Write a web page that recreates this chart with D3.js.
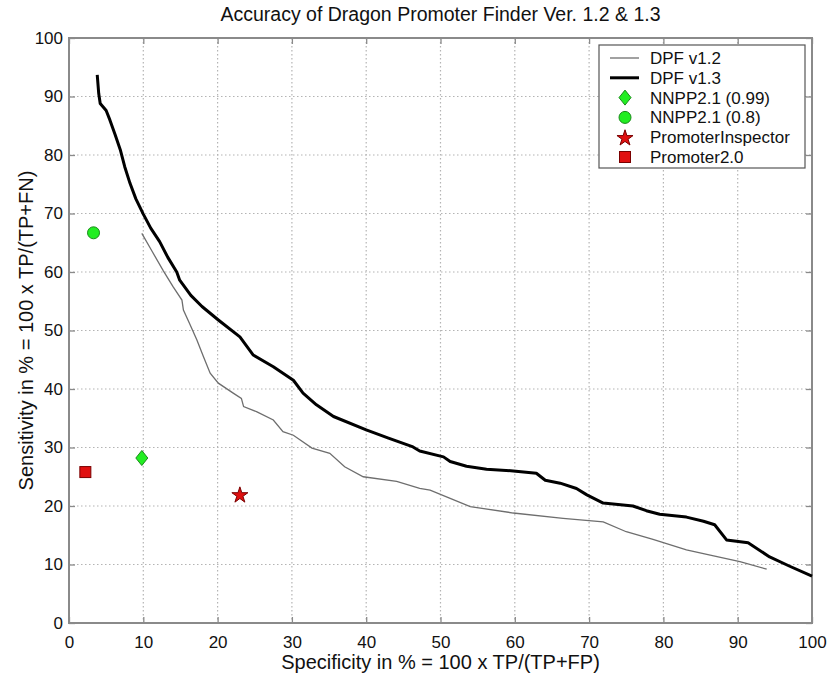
<!DOCTYPE html>
<html lang="en">
<head>
<meta charset="utf-8">
<title>Accuracy of Dragon Promoter Finder</title>
<script src="https://cdn.jsdelivr.net/npm/d3@7"></script>
<style>
  body { margin: 0; background: #fff; }
  text { font-family: "Liberation Sans", Arial, sans-serif; fill: #111; }
</style>
</head>
<body>
<script>
// DPF v1.2 curve (specificity, sensitivity)
var dpf12 = [
  [9.8, 66.6], [11.2, 63.5], [12.7, 60.2], [14.0, 57.5], [15.2, 55.2], [15.4, 53.5],
  [16.3, 51.0], [17.2, 48.4], [18.1, 45.5], [19.0, 42.7], [20.1, 41.0], [22.1, 39.3],
  [23.2, 38.4], [23.5, 37.0], [25.3, 36.1], [27.5, 34.7], [28.8, 32.7], [30.2, 32.1],
  [32.7, 29.9], [35.1, 29.0], [37.1, 26.7], [39.6, 25.0], [44.1, 24.2], [47.2, 23.0],
  [48.6, 22.7], [51.3, 21.3], [54.0, 19.9], [59.8, 18.8], [66.5, 17.9], [71.9, 17.3],
  [75.0, 15.6], [78.6, 14.3], [83.1, 12.5], [86.3, 11.6], [90.3, 10.5], [93.9, 9.2]
];
// DPF v1.3 curve
var dpf13 = [
  [3.8, 93.7], [4.0, 90.5], [4.2, 88.8], [5.0, 87.6], [5.5, 86.0], [6.2, 83.5],
  [6.9, 80.9], [7.5, 78.0], [8.2, 75.2], [9.0, 72.5], [10.0, 69.9], [11.0, 67.5],
  [12.2, 65.2], [13.3, 62.5], [14.5, 60.0], [14.9, 58.6], [16.4, 56.0], [17.9, 54.1],
  [20.1, 51.8], [23.0, 48.9], [24.8, 45.8], [27.5, 43.8], [30.2, 41.5], [31.5, 39.3],
  [33.3, 37.3], [35.6, 35.3], [40.0, 33.0], [43.0, 31.6], [46.3, 30.1], [47.2, 29.4],
  [50.4, 28.4], [51.3, 27.6], [53.5, 26.8], [56.2, 26.3], [59.8, 26.0], [62.9, 25.6],
  [64.1, 24.4], [66.1, 23.9], [68.3, 23.0], [69.7, 21.9], [71.9, 20.5], [75.9, 20.0],
  [77.7, 19.2], [79.5, 18.6], [83.1, 18.1], [85.4, 17.4], [86.9, 16.8], [88.5, 14.2],
  [91.4, 13.7], [94.3, 11.3], [97.0, 9.7], [100.0, 8.0]
];
// single tools
var nnpp99 = [9.8, 28.2];
var nnpp08 = [3.3, 66.7];
var promoterInspector = [23.0, 22.0];
var promoter20 = [2.2, 25.8];

var ticks = [0, 10, 20, 30, 40, 50, 60, 70, 80, 90, 100];
var legendLabels = ["DPF v1.2", "DPF v1.3", "NNPP2.1 (0.99)", "NNPP2.1 (0.8)", "PromoterInspector", "Promoter2.0"];

var width = 828, height = 675;
var pLeft = 69, pRight = 812, pTop = 38, pBottom = 623;

var svg = d3.select("body").append("svg")
  .attr("width", width)
  .attr("height", height);

var x = d3.scaleLinear().domain([0, 100]).range([pLeft, pRight]);
var y = d3.scaleLinear().domain([0, 100]).range([pBottom, pTop]);

// grid (dotted)
var grid = svg.append("g");
grid.selectAll(".vg").data(ticks.slice(1, -1)).enter().append("line")
  .attr("x1", d => x(d)).attr("x2", d => x(d))
  .attr("y1", pTop).attr("y2", pBottom)
  .attr("stroke", "#b4b4b4").attr("stroke-width", 1.2)
  .attr("stroke-dasharray", "1.5,2.5");
grid.selectAll(".hg").data(ticks.slice(1, -1)).enter().append("line")
  .attr("y1", d => y(d)).attr("y2", d => y(d))
  .attr("x1", pLeft).attr("x2", pRight)
  .attr("stroke", "#b4b4b4").attr("stroke-width", 1.2)
  .attr("stroke-dasharray", "1.5,2.5");

// axes, ticks inward on all 4 sides
var axCol = "#8a8a8a";
function styleAxis(g) {
  g.select(".domain").remove();
  g.selectAll(".tick line").attr("stroke", axCol).attr("stroke-width", 1.3);
  g.selectAll(".tick text").attr("font-size", 17).attr("fill", "#111")
    .attr("font-family", "Liberation Sans, Arial, sans-serif");
}
svg.append("g").attr("transform", "translate(0," + pBottom + ")")
  .call(d3.axisBottom(x).tickValues(ticks).tickSize(-6).tickPadding(13))
  .call(styleAxis);
svg.append("g").attr("transform", "translate(0," + pTop + ")")
  .call(d3.axisTop(x).tickValues(ticks).tickSize(-6).tickFormat(""))
  .call(styleAxis);
svg.append("g").attr("transform", "translate(" + pLeft + ",0)")
  .call(d3.axisLeft(y).tickValues(ticks).tickSize(-6).tickPadding(6))
  .call(styleAxis);
svg.append("g").attr("transform", "translate(" + pRight + ",0)")
  .call(d3.axisRight(y).tickValues(ticks).tickSize(-6).tickFormat(""))
  .call(styleAxis);

svg.append("rect")
  .attr("x", pLeft).attr("y", pTop)
  .attr("width", pRight - pLeft).attr("height", pBottom - pTop)
  .attr("fill", "none").attr("stroke", axCol).attr("stroke-width", 2);

// curves
var line = d3.line().x(d => x(d[0])).y(d => y(d[1]));
svg.append("path").datum(dpf12).attr("d", line)
  .attr("fill", "none").attr("stroke", "#6e6e6e").attr("stroke-width", 1.3);
svg.append("path").datum(dpf13).attr("d", line)
  .attr("fill", "none").attr("stroke", "#000").attr("stroke-width", 3)
  .attr("stroke-linejoin", "round");

// markers
var green = "#22ee22", greenEdge = "#1a8a1a";
var red = "#e01010", redEdge = "#7a0000";
function diamond(g, cx, cy) {
  g.append("path").attr("d", "M0,-7.5L6,0L0,7.5L-6,0Z")
    .attr("transform", "translate(" + cx + "," + cy + ")")
    .attr("fill", green).attr("stroke", greenEdge).attr("stroke-width", 1);
}
function circle(g, cx, cy) {
  g.append("circle").attr("cx", cx).attr("cy", cy).attr("r", 6)
    .attr("fill", green).attr("stroke", greenEdge).attr("stroke-width", 1);
}
function star(g, cx, cy) {
  g.append("path").attr("d", d3.symbol().type(d3.symbolStar).size(80)())
    .attr("transform", "translate(" + cx + "," + (cy + 1) + ")")
    .attr("fill", red).attr("stroke", redEdge).attr("stroke-width", 1);
}
function square(g, cx, cy) {
  g.append("rect").attr("x", cx - 5.5).attr("y", cy - 5.5)
    .attr("width", 11).attr("height", 11)
    .attr("fill", red).attr("stroke", redEdge).attr("stroke-width", 1);
}
diamond(svg, x(nnpp99[0]), y(nnpp99[1]));
circle(svg, x(nnpp08[0]), y(nnpp08[1]));
star(svg, x(promoterInspector[0]), y(promoterInspector[1]));
square(svg, x(promoter20[0]), y(promoter20[1]));

// legend
var lg = svg.append("g");
lg.append("rect").attr("x", 599).attr("y", 45).attr("width", 206).attr("height", 123)
  .attr("fill", "#fff").attr("stroke", "#555").attr("stroke-width", 1.2);
var rowY = d => 58 + d * 19.8;
lg.selectAll("text").data(legendLabels).enter().append("text")
  .attr("x", 650).attr("y", (d, i) => rowY(i) + 6)
  .attr("font-size", 17).text(d => d);
lg.append("line").attr("x1", 610).attr("x2", 639).attr("y1", rowY(0)).attr("y2", rowY(0))
  .attr("stroke", "#6e6e6e").attr("stroke-width", 1.3);
lg.append("line").attr("x1", 610).attr("x2", 639).attr("y1", rowY(1)).attr("y2", rowY(1))
  .attr("stroke", "#000").attr("stroke-width", 3);
diamond(lg, 625, rowY(2));
circle(lg, 625, rowY(3));
star(lg, 625, rowY(4));
square(lg, 625, rowY(5));

// title & labels
svg.append("text").attr("x", (pLeft + pRight) / 2).attr("y", 21)
  .attr("text-anchor", "middle").attr("font-size", 19.5)
  .text("Accuracy of Dragon Promoter Finder Ver. 1.2 & 1.3");
svg.append("text").attr("x", (pLeft + pRight) / 2).attr("y", 669)
  .attr("text-anchor", "middle").attr("font-size", 20)
  .text("Specificity in % = 100 x TP/(TP+FP)");
svg.append("text")
  .attr("transform", "translate(33," + (pTop + pBottom) / 2 + ") rotate(-90)")
  .attr("text-anchor", "middle").attr("font-size", 20)
  .text("Sensitivity in % = 100 x TP/(TP+FN)");
</script>
</body>
</html>
